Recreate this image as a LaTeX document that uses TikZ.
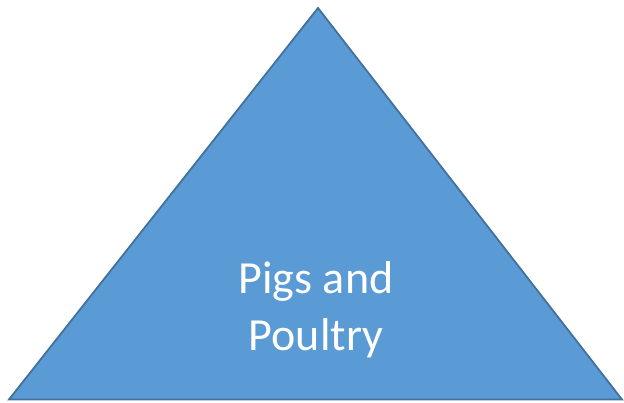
\documentclass[tikz,border=0pt]{standalone}
\usepackage{fontspec}
\setmainfont{Carlito}
\definecolor{tribluefill}{HTML}{5B9BD5}
\definecolor{tribluedraw}{HTML}{41719C}
\begin{document}
\begin{tikzpicture}[x=1pt, y=1pt]
\useasboundingbox (0,0) rectangle (624,403);
\coordinate (apex) at (318,395);
\coordinate (left) at (9,3.5);
\coordinate (right) at (622,3.5);
\draw[fill=tribluefill, draw=tribluedraw, line width=1.8pt, line join=miter] (apex) -- (right) -- (left) -- cycle;
\node[text=white, align=center, font=\fontsize{46}{57}\selectfont] (label) at (316,93) {Pigs and\\ Poultry};
\end{tikzpicture}
\end{document}
